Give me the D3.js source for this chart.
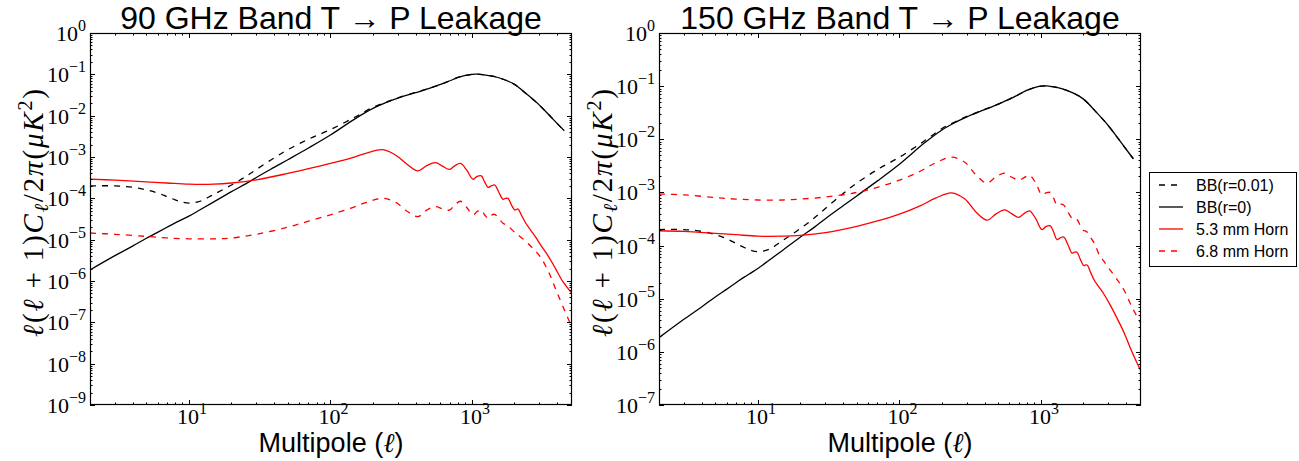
<!DOCTYPE html>
<html>
<head>
<meta charset="utf-8">
<script src="https://cdn.jsdelivr.net/npm/d3@7"></script>
<style>
  body { margin: 0; background: #fff; }
  svg { display: block; }
</style>
</head>
<body>
<svg id="chart" width="1299" height="461"></svg>
<script>
// multipoles for the CMB B-mode curves
var cmbElls = [2, 3, 4, 5, 6, 7, 8, 9, 10, 12, 15, 20, 25, 30, 40, 50, 70, 100, 150, 200, 250, 300,
  400, 500, 600, 700, 800, 900, 1000, 1100, 1200, 1400, 1700, 2000, 2500, 3000, 3500, 4000, 4500];

// BB(r=0.01), tensor + lensing
var bbR001 = [2.0e-4, 2.0e-4, 1.85e-4, 1.6e-4, 1.35e-4, 1.1e-4, 9.2e-5, 8.1e-5, 7.7e-5, 8.5e-5, 1.25e-4,
  2.1e-4, 3.3e-4, 5.0e-4, 9.5e-4, 1.5e-3, 2.7e-3, 4.6e-3, 9.3e-3, 1.6e-2, 2.15e-2, 2.7e-2,
  3.65e-2, 4.6e-2, 5.7e-2, 7.0e-2, 8.4e-2, 9.4e-2, 1.0e-1, 1.01e-1, 9.8e-2, 9.0e-2, 7.4e-2, 5.7e-2,
  3.1e-2, 1.8e-2, 1.05e-2, 6.5e-3, 4.3e-3];

// BB(r=0), lensing only
var bbR0 = [1.85e-6, 4.1e-6, 7.0e-6, 1.08e-5, 1.5e-5, 2.0e-5, 2.55e-5, 3.1e-5, 3.7e-5, 5.3e-5, 8.2e-5,
  1.45e-4, 2.2e-4, 3.2e-4, 5.6e-4, 8.6e-4, 1.65e-3, 3.4e-3, 8.5e-3, 1.5e-2, 2.1e-2, 2.65e-2,
  3.6e-2, 4.6e-2, 5.7e-2, 7.0e-2, 8.4e-2, 9.4e-2, 1.0e-1, 1.01e-1, 9.8e-2, 9.0e-2, 7.4e-2, 5.7e-2,
  3.1e-2, 1.8e-2, 1.05e-2, 6.5e-3, 4.3e-3];

// multipoles for the horn leakage curves
var hornElls = [2, 3, 5, 7, 10, 15, 20, 30, 50, 70, 100, 140, 180, 234, 290, 350, 415, 480, 553, 620,
  695, 760, 832, 920, 1018, 1090, 1166, 1230, 1300, 1370, 1450, 1550, 1660, 1730, 1800, 1900, 2010,
  2060, 2120, 2250, 2390, 2600, 2800, 3100, 3500, 3900, 4400, 5100];

// 90 GHz
var horn53at90 = [2.9e-4, 2.75e-4, 2.5e-4, 2.35e-4, 2.2e-4, 2.2e-4, 2.35e-4, 2.8e-4, 4.0e-4, 5.2e-4,
  7.0e-4, 9.4e-4, 1.24e-3, 1.5e-3, 1.1e-3, 6.6e-4, 4.6e-4, 6.2e-4, 7.3e-4, 6.0e-4,
  5.0e-4, 6.2e-4, 7.0e-4, 4.8e-4, 2.9e-4, 3.4e-4, 3.5e-4, 2.5e-4, 1.85e-4, 2.0e-4, 2.1e-4, 1.4e-4,
  9.5e-5, 1.0e-4, 1.0e-4, 7.0e-5, 5.2e-5, 5.4e-5, 5.5e-5, 3.8e-5, 2.6e-5, 1.7e-5, 1.2e-5, 7.0e-6,
  3.8e-6, 2.0e-6, 9.6e-7, 5.0e-7];
var horn68at90 = [1.45e-5, 1.35e-5, 1.2e-5, 1.1e-5, 1.05e-5, 1.05e-5, 1.1e-5, 1.35e-5, 2.0e-5, 2.8e-5,
  4.0e-5, 5.8e-5, 8.0e-5, 1.0e-4, 8.0e-5, 4.8e-5, 3.6e-5, 5.2e-5, 6.3e-5, 5.6e-5,
  5.2e-5, 7.0e-5, 8.5e-5, 6.0e-5, 4.0e-5, 4.8e-5, 5.2e-5, 4.0e-5, 3.3e-5, 3.9e-5, 4.1e-5, 3.2e-5,
  2.5e-5, 2.3e-5, 2.1e-5, 1.8e-5, 1.5e-5, 1.4e-5, 1.3e-5, 1.1e-5, 9.5e-6, 7.0e-6, 5.5e-6, 3.5e-6,
  1.6e-6, 6.5e-7, 2.4e-7, 7.5e-8];

// 150 GHz
var horn53at150 = [1.9e-4, 1.85e-4, 1.7e-4, 1.6e-4, 1.5e-4, 1.5e-4, 1.55e-4, 1.75e-4, 2.3e-4, 2.9e-4,
  3.9e-4, 5.6e-4, 7.8e-4, 9.8e-4, 7.5e-4, 4.2e-4, 3.0e-4, 3.9e-4, 4.7e-4, 4.0e-4,
  3.4e-4, 4.0e-4, 4.5e-4, 3.2e-4, 2.0e-4, 2.3e-4, 2.35e-4, 1.8e-4, 1.3e-4, 1.4e-4, 1.45e-4, 1.05e-4,
  7.2e-5, 7.5e-5, 7.5e-5, 5.5e-5, 4.2e-5, 4.3e-5, 4.3e-5, 3.1e-5, 2.2e-5, 1.6e-5, 1.2e-5, 7.5e-6,
  4.0e-6, 2.2e-6, 1.0e-6, 4.3e-7];
var horn68at150 = [9.3e-4, 9.0e-4, 8.0e-4, 7.5e-4, 7.2e-4, 7.2e-4, 7.5e-4, 8.2e-4, 1.0e-3, 1.25e-3,
  1.7e-3, 2.5e-3, 3.6e-3, 4.6e-3, 3.7e-3, 2.1e-3, 1.5e-3, 1.95e-3, 2.3e-3, 1.95e-3,
  1.7e-3, 1.9e-3, 2.1e-3, 1.5e-3, 9.0e-4, 9.8e-4, 1.0e-3, 7.8e-4, 5.8e-4, 6.0e-4, 5.8e-4, 4.3e-4,
  3.3e-4, 3.3e-4, 3.1e-4, 2.4e-4, 1.9e-4, 1.9e-4, 1.8e-4, 1.4e-4, 1.1e-4, 6.5e-5, 5.0e-5, 3.4e-5,
  2.2e-5, 1.4e-5, 7.0e-6, 3.4e-6];

var legendLabels = ["BB(r=0.01)", "BB(r=0)", "5.3 mm Horn", "6.8 mm Horn"];
var xTickExps = [1, 2, 3];

var svg = d3.select("#chart");
var sansFont = "'Liberation Sans', Arial, sans-serif";
var serifFont = "'Liberation Serif', 'DejaVu Serif', serif";

// styles for the four curves (same order as legend)
var styles = [
  { color: "#000", dash: "6,6" },
  { color: "#000", dash: null },
  { color: "#ff0000", dash: null },
  { color: "#ff0000", dash: "6,6" }
];

var panels = [
  { title: "90 GHz Band T \u2192 P Leakage", left: 90, minExp: -9, h53: horn53at90, h68: horn68at90 },
  { title: "150 GHz Band T \u2192 P Leakage", left: 659, minExp: -7, h53: horn53at150, h68: horn68at150 }
];

var plotW = 482, plotTop = 33, plotBottom = 405;

// write 10^k as text with a raised exponent
function powLabel(sel, k) {
  sel.append("tspan").text("10");
  sel.append("tspan")
    .attr("dy", -10)
    .style("font-size", "16px")
    .text(k < 0 ? "\u2212" + (-k) : String(k));
}

panels.forEach(function(p, pi) {
  var x = d3.scaleLog().domain([2, 5100]).range([p.left, p.left + plotW]);
  var y = d3.scaleLog().domain([Math.pow(10, p.minExp), 1]).range([plotBottom, plotTop]);

  var g = svg.append("g");
  var clipId = "clip" + pi;
  svg.append("clipPath").attr("id", clipId)
    .append("rect").attr("x", p.left).attr("y", plotTop)
    .attr("width", plotW).attr("height", plotBottom - plotTop);

  var line = d3.line()
    .x(function(d) { return x(d[0]); })
    .y(function(d) { return y(d[1]); })
    .curve(d3.curveCatmullRom.alpha(0.5));

  var seriesData = [
    d3.zip(cmbElls, bbR001),
    d3.zip(cmbElls, bbR0),
    d3.zip(hornElls, p.h53),
    d3.zip(hornElls, p.h68)
  ];

  var lines = g.append("g").attr("clip-path", "url(#" + clipId + ")");
  seriesData.forEach(function(data, i) {
    lines.append("path")
      .attr("d", line(data))
      .attr("fill", "none")
      .attr("stroke", styles[i].color)
      .attr("stroke-width", 1.3)
      .attr("stroke-dasharray", styles[i].dash);
  });

  // ticks, inside on all four sides
  var ticks = g.append("g").attr("stroke", "#000").attr("stroke-width", 1);
  var yTicks = [];
  for (var k = p.minExp; k <= 0; k++) {
    yTicks.push({ v: Math.pow(10, k), major: true, k: k });
    if (k < 0) for (var m = 2; m <= 9; m++) yTicks.push({ v: m * Math.pow(10, k), major: false });
  }
  yTicks.forEach(function(t) {
    var yy = Math.round(y(t.v)) + 0.5;
    var len = t.major ? 5 : 2.5;
    ticks.append("line").attr("x1", p.left).attr("x2", p.left + len).attr("y1", yy).attr("y2", yy);
    ticks.append("line").attr("x1", p.left + plotW).attr("x2", p.left + plotW - len).attr("y1", yy).attr("y2", yy);
  });
  var xTicks = [];
  for (var e = 0; e <= 3; e++) {
    for (var m2 = 1; m2 <= 9; m2++) {
      var v = m2 * Math.pow(10, e);
      if (v > 2 && v < 5100) xTicks.push({ v: v, major: m2 === 1 });
    }
  }
  xTicks.forEach(function(t) {
    var xx = Math.round(x(t.v)) + 0.5;
    var len = t.major ? 5 : 2.5;
    ticks.append("line").attr("x1", xx).attr("x2", xx).attr("y1", plotBottom).attr("y2", plotBottom - len);
    ticks.append("line").attr("x1", xx).attr("x2", xx).attr("y1", plotTop).attr("y2", plotTop + len);
  });

  // frame
  g.append("rect")
    .attr("x", p.left + 0.5).attr("y", plotTop + 0.5)
    .attr("width", plotW - 1).attr("height", plotBottom - plotTop - 1)
    .attr("fill", "none").attr("stroke", "#000").attr("stroke-width", 1.2);

  // y tick labels
  yTicks.filter(function(t) { return t.major; }).forEach(function(t) {
    var txt = g.append("text")
      .attr("x", p.left - 4)
      .attr("y", y(t.v) + 8)
      .attr("text-anchor", "end")
      .style("font-family", serifFont)
      .style("font-size", "22px")
      .attr("fill", "#000");
    powLabel(txt, t.k);
  });

  // x tick labels
  xTickExps.forEach(function(k) {
    var txt = g.append("text")
      .attr("x", x(Math.pow(10, k)) + 3)
      .attr("y", plotBottom + 19)
      .attr("text-anchor", "middle")
      .style("font-family", serifFont)
      .style("font-size", "22px")
      .attr("fill", "#000");
    powLabel(txt, k);
  });

  // title
  g.append("text")
    .attr("x", p.left + plotW / 2)
    .attr("y", 29)
    .attr("text-anchor", "middle")
    .style("font-family", sansFont)
    .style("font-size", "32px")
    .attr("fill", "#000")
    .text(p.title);

  // x label
  var xl = g.append("text")
    .attr("x", p.left + plotW / 2)
    .attr("y", 452)
    .attr("text-anchor", "middle")
    .style("font-family", sansFont)
    .style("font-size", "27px")
    .attr("fill", "#000");
  xl.append("tspan").text("Multipole (");
  xl.append("tspan").style("font-family", serifFont).style("font-style", "italic").text("\u2113");
  xl.append("tspan").text(")");

  // y label
  var cx = p.left - 47, cy = (plotTop + plotBottom) / 2 - 6;
  var yl = g.append("text")
    .attr("transform", "translate(" + cx + "," + cy + ") rotate(-90)")
    .attr("text-anchor", "middle")
    .attr("textLength", 248)
    .attr("lengthAdjust", "spacing")
    .style("font-family", serifFont)
    .style("font-size", "29px")
    .attr("fill", "#000");
  var parts = [
    { t: "\u2113", i: true }, { t: "(" }, { t: "\u2113", i: true }, { t: " + 1)" },
    { t: "C", i: true }, { t: "\u2113", i: true, sub: true }, { t: "/2" }, { t: "\u03c0", i: true },
    { t: "(" }, { t: "\u03bcK", i: true }, { t: "2", sup: true }, { t: ")" }
  ];
  var shift = 0;
  parts.forEach(function(s) {
    var want = s.sub ? 5 : (s.sup ? -11 : 0);
    var ts = yl.append("tspan").text(s.t).attr("dy", want - shift);
    shift = want;
    if (s.i) ts.style("font-style", "italic");
    if (s.sub || s.sup) ts.style("font-size", "20px");
  });
});

// legend
var lg = svg.append("g");
lg.append("rect")
  .attr("x", 1149.5).attr("y", 172.5).attr("width", 147).attr("height", 94)
  .attr("fill", "#fff").attr("stroke", "#000").attr("stroke-width", 1);
legendLabels.forEach(function(name, i) {
  var yy = 185 + i * 22;
  lg.append("line")
    .attr("x1", 1159).attr("x2", 1183).attr("y1", yy).attr("y2", yy)
    .attr("stroke", styles[i].color).attr("stroke-width", 1.3)
    .attr("stroke-dasharray", styles[i].dash);
  lg.append("text")
    .attr("x", 1196).attr("y", yy + 6)
    .style("font-family", sansFont)
    .style("font-size", "16px")
    .attr("fill", "#000")
    .text(name);
});
</script>
</body>
</html>
